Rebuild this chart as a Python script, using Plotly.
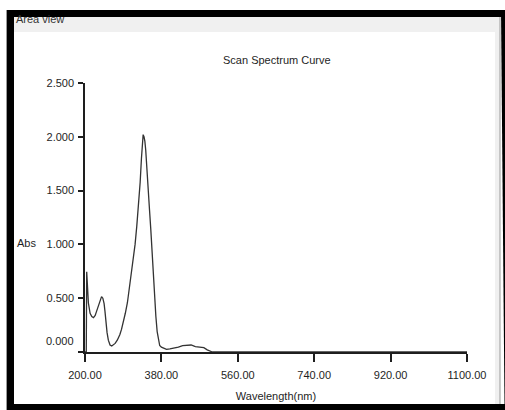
import plotly.graph_objects as go

# ---- data ----
wavelength = [200, 203, 204, 206, 208, 212, 216, 220, 224, 227, 231, 234, 237, 239, 242, 245, 247,
              249, 252, 255, 259, 263, 267, 271, 276, 282, 286, 290, 295, 300, 305, 310,
              314, 318, 322, 326, 330, 333, 335, 337, 339, 341, 343, 346, 349, 352, 355, 358,
              361, 364, 367, 370, 373, 376, 380, 385, 392, 400, 410, 420, 430, 440, 450, 460,
              470, 480, 488, 495, 500, 600, 700, 800, 900, 1000, 1100]
absorbance = [0.000, 0.000, 0.745, 0.600, 0.455, 0.360, 0.330, 0.320, 0.340, 0.375, 0.430, 0.470,
              0.500, 0.515, 0.500, 0.450, 0.380, 0.270, 0.180, 0.110, 0.065, 0.055, 0.065,
              0.080, 0.110, 0.160, 0.210, 0.270, 0.360, 0.460, 0.600, 0.740,
              0.860, 1.000, 1.170, 1.360, 1.580, 1.800, 1.940, 2.020, 2.000, 1.960, 1.880,
              1.720, 1.520, 1.320, 1.140, 0.920, 0.700, 0.500, 0.330, 0.190, 0.100, 0.060,
              0.045, 0.035, 0.025, 0.030, 0.035, 0.045, 0.060, 0.065, 0.065, 0.050, 0.045,
              0.040, 0.020, 0.005, 0.000, 0.000, 0.000, 0.000, 0.000, 0.000, 0.000]

x_ticks = [200, 380, 560, 740, 920, 1100]
x_tick_labels = ["200.00", "380.00", "560.00", "740.00", "920.00", "1100.00"]
y_ticks = [0, 0.5, 1.0, 1.5, 2.0, 2.5]
y_tick_labels = ["", "0.500", "1.000", "1.500", "2.000", "2.500"]

title_text = "Scan Spectrum Curve"
x_title = "Wavelength(nm)"
y_title = "Abs"
window_title = "Area view"

W, H = 505, 410
FONT = "Liberation Sans, Arial, sans-serif"
FS = 11
INK = "#1e1e1e"


def px(x):
    return x / W


def py(y):
    return 1 - y / H


fig = go.Figure()
fig.add_trace(go.Scatter(x=wavelength, y=absorbance, mode="lines",
                         line=dict(color="#333333", width=1.3),
                         showlegend=False, hoverinfo="x+y"))

shapes = []
# window chrome (light grey header band and right strip)
shapes.append(dict(type="rect", xref="paper", yref="paper", x0=px(14), x1=px(500), y0=py(17), y1=py(32),
                   fillcolor="#f0f0f0", line=dict(width=0), layer="below"))
shapes.append(dict(type="rect", xref="paper", yref="paper", x0=px(495), x1=px(500), y0=py(32), y1=py(404),
                   fillcolor="#f0f0f0", line=dict(width=0), layer="below"))
shapes.append(dict(type="line", xref="paper", yref="paper", x0=px(500), x1=px(500), y0=py(17), y1=py(404),
                   line=dict(color="#9a9a9a", width=1), layer="below"))
shapes.append(dict(type="line", xref="paper", yref="paper", x0=px(6.5), x1=px(6.5), y0=py(10), y1=py(410),
                   line=dict(color="#9a9a9a", width=1), layer="below"))
# black frame
for (x0, x1, y0, y1) in [(7, 505, 10, 17), (7, 14, 10, 410), (7, 505, 404, 410)]:
    shapes.append(dict(type="rect", xref="paper", yref="paper", x0=px(x0), x1=px(x1), y0=py(y0), y1=py(y1),
                       fillcolor="#000000", line=dict(width=0), layer="above"))
shapes.append(dict(type="path", xref="paper", yref="paper",
                   path=f"M {px(501)},{py(10)} L {px(505)},{py(10)} L {px(505)},{py(404)} L {px(504.5)},{py(404)} Z",
                   fillcolor="#000000", line=dict(width=0), layer="above"))

annotations = [
    dict(text=title_text, x=px(276.5), y=py(59.5), xref="paper", yref="paper", showarrow=False,
         xanchor="center", yanchor="middle", font=dict(family=FONT, size=FS, color=INK)),
    dict(text=y_title, x=px(26), y=py(242.5), xref="paper", yref="paper", showarrow=False,
         xanchor="center", yanchor="middle", font=dict(family=FONT, size=FS, color=INK)),
    dict(text="0.000", x=px(76), y=py(340.5), xref="paper", yref="paper", showarrow=False,
         xanchor="right", yanchor="middle", font=dict(family=FONT, size=FS, color=INK)),
    dict(text=window_title, x=px(14), y=py(18.5), xref="paper", yref="paper", showarrow=False,
         xanchor="left", yanchor="middle", font=dict(family=FONT, size=FS, color="#333333")),
]

fig.update_layout(
    template="none",
    width=W, height=H, autosize=False,
    margin=dict(l=0, r=0, t=0, b=0, pad=0),
    paper_bgcolor="white", plot_bgcolor="white",
    font=dict(family=FONT, size=FS, color=INK),
    shapes=shapes, annotations=annotations, showlegend=False,
    xaxis=dict(domain=[px(85), px(467)], range=[200, 1100], tickmode="array", automargin=False,
               tickvals=x_ticks, ticktext=x_tick_labels, ticks="outside", ticklen=8,
               tickwidth=1.5, tickcolor=INK, showline=True, linecolor=INK, linewidth=2,
               showgrid=False, zeroline=False, tickfont=dict(family=FONT, size=FS, color=INK),
               ticklabelstandoff=4,
               title=dict(text=x_title, standoff=12, font=dict(family=FONT, size=FS, color=INK))),
    yaxis=dict(domain=[py(352), py(83)], range=[0, 2.5], tickmode="array", automargin=False,
               tickvals=y_ticks, ticktext=y_tick_labels, ticks="outside", ticklen=5,
               tickwidth=1.5, tickcolor=INK, showline=True, linecolor=INK, linewidth=1.5,
               showgrid=False, zeroline=False, tickfont=dict(family=FONT, size=FS, color=INK),
               ticklabelstandoff=2),
)

fig.write_html("out.html", config={"displayModeBar": False},
               post_script="document.body.style.margin='0';document.body.style.overflow='hidden';")
